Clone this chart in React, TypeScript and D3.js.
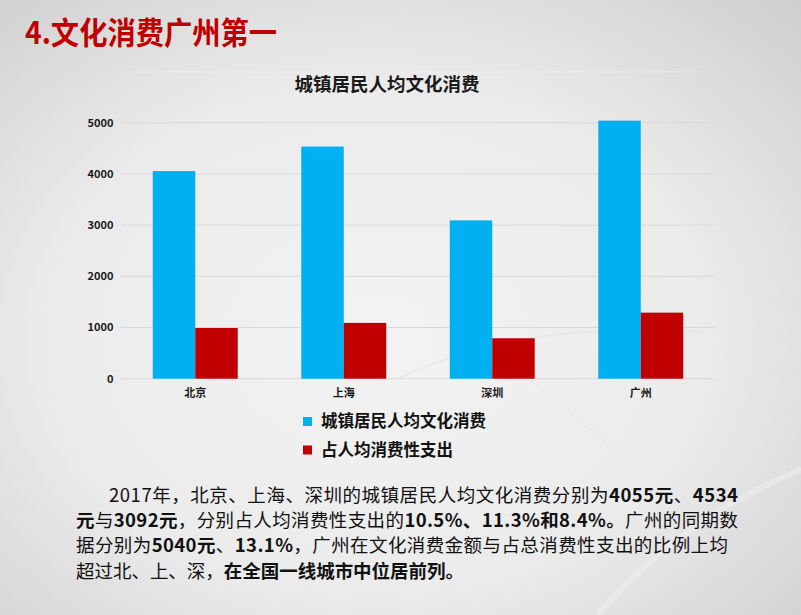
import React from "react";
import * as d3 from "d3";

const categories = ["北京", "上海", "深圳", "广州"];
const seriesNames = ["城镇居民人均文化消费", "占人均消费性支出"];
const cultureSpend = [4055, 4534, 3092, 5040];
const shareSpend = [990, 1090, 790, 1290];
const yTicks = [0, 1000, 2000, 3000, 4000, 5000];
const seriesColors = ["#00B0F0", "#C00000"];

const W = 801;
const H = 615;
const FONT = "'Noto Sans CJK SC', 'Microsoft YaHei', sans-serif";

type Seg = { t: string; b?: boolean };
const paragraph: { x: number; end: number; segs: Seg[] }[] = [
  {
    x: 109,
    end: 738,
    segs: [
      { t: "2017年，北京、上海、深圳的城镇居民人均文化消费分别为" },
      { t: "4055元", b: true },
      { t: "、" },
      { t: "4534", b: true },
    ],
  },
  {
    x: 76,
    end: 738,
    segs: [
      { t: "元", b: true },
      { t: "与" },
      { t: "3092元", b: true },
      { t: "，分别占人均消费性支出的" },
      { t: "10.5%、11.3%和8.4%。", b: true },
      { t: "广州的同期数" },
    ],
  },
  {
    x: 76,
    end: 728,
    segs: [
      { t: "据分别为" },
      { t: "5040元", b: true },
      { t: "、" },
      { t: "13.1%", b: true },
      { t: "，广州在文化消费金额与占总消费性支出的比例上均" },
    ],
  },
  {
    x: 76,
    end: 464,
    segs: [
      { t: "超过北、上、深，" },
      { t: "在全国一线城市中位居前列。", b: true },
    ],
  },
];

export default function App() {
  const plotLeft = 121;
  const plotRight = 715;
  const x0 = d3
    .scaleBand<string>()
    .domain(categories)
    .range([plotLeft, plotRight])
    .paddingInner(0.428)
    .paddingOuter(0.214);
  const x1 = d3
    .scaleBand<number>()
    .domain([0, 1])
    .range([0, x0.bandwidth()])
    .padding(0);
  const y = d3.scaleLinear().domain([0, 5000]).range([378.7, 122.7]);
  const seriesData = [cultureSpend, shareSpend];

  return (
    <svg
      width={W}
      height={H}
      viewBox={`0 0 ${W} ${H}`}
      style={{ position: "absolute", left: 0, top: 0, display: "block" }}
      fontFamily={FONT}
    >
      <defs>
        <radialGradient id="bg" cx="0.47" cy="0.55" r="0.75">
          <stop offset="0" stopColor="#f3f3f3" />
          <stop offset="0.55" stopColor="#ebebeb" />
          <stop offset="1" stopColor="#cfcfcf" />
        </radialGradient>
      </defs>
      <rect x={0} y={0} width={W} height={H} fill="url(#bg)" />

      {/* faint background decoration */}
      <g fill="none" strokeLinecap="round">
        <line x1={130} y1={72} x2={700} y2={72} stroke="#f4f4f4" strokeWidth={1.2} opacity={0.6} />
        <path d="M 400 378 Q 520 320 700 332" stroke="#dcdcdc" strokeWidth={1.5} opacity={0.45} />
        <path d="M 530 380 L 625 458" stroke="#dadada" strokeWidth={1} opacity={0.4} />
        <path d="M 600 612 Q 680 520 800 470" stroke="#f6f6f6" strokeWidth={6} opacity={0.35} />
        <path d="M 620 560 Q 700 500 800 500" stroke="#dedede" strokeWidth={1.5} opacity={0.35} />
      </g>

      {/* main title */}
      <text
        x={25}
        y={43.5}
        fontSize={31}
        fontWeight={700}
        fill="#C00000"
        textLength={252}
        lengthAdjust="spacingAndGlyphs"
      >
        4.文化消费广州第一
      </text>

      {/* chart title */}
      <text
        x={387}
        y={91}
        fontSize={18.5}
        fontWeight={700}
        fill="#1a1a1a"
        textAnchor="middle"
      >
        城镇居民人均文化消费
      </text>

      {/* gridlines */}
      <g>
        {yTicks.map((t) => (
          <line
            key={t}
            x1={plotLeft}
            x2={plotRight}
            y1={y(t)}
            y2={y(t)}
            stroke="#d9d9d9"
            strokeWidth={1}
          />
        ))}
      </g>

      {/* y labels */}
      <g>
        {yTicks.map((t) => (
          <text
            key={t}
            x={113.5}
            y={y(t)}
            dy="0.35em"
            fontSize={11}
            fontWeight={700}
            fill="#1a1a1a"
            textAnchor="end"
          >
            {t}
          </text>
        ))}
      </g>

      {/* bars */}
      <g>
        {categories.map((c, ci) => (
          <g key={c} transform={`translate(${x0(c)},0)`}>
            {seriesData.map((s, si) => (
              <rect
                key={si}
                x={x1(si)}
                y={y(s[ci])}
                width={x1.bandwidth()}
                height={y(0) - y(s[ci])}
                fill={seriesColors[si]}
              />
            ))}
          </g>
        ))}
      </g>

      {/* category labels */}
      <g>
        {categories.map((c) => (
          <text
            key={c}
            x={(x0(c) as number) + x0.bandwidth() / 2}
            y={396.5}
            fontSize={11}
            fontWeight={700}
            fill="#1a1a1a"
            textAnchor="middle"
          >
            {c}
          </text>
        ))}
      </g>

      {/* legend */}
      <g>
        {seriesNames.map((n, i) => (
          <g key={n} transform={`translate(303,${417 + i * 28.5})`}>
            <rect x={0} y={0} width={9} height={9} fill={seriesColors[i]} />
            <text
              x={18}
              y={4.5}
              dy="0.36em"
              fontSize={16.5}
              fontWeight={700}
              fill="#111"
            >
              {n}
            </text>
          </g>
        ))}
      </g>

      {/* paragraph */}
      <g fill="#111">
        {paragraph.map((line, i) => (
          <text
            key={i}
            x={line.x}
            y={502 + i * 25.2}
            fontSize={18.5}
            textLength={line.end - line.x}
            lengthAdjust="spacing"
          >
            {line.segs.map((s, j) => (
              <tspan key={j} fontWeight={s.b ? 700 : 400}>
                {s.t}
              </tspan>
            ))}
          </text>
        ))}
      </g>
    </svg>
  );
}
